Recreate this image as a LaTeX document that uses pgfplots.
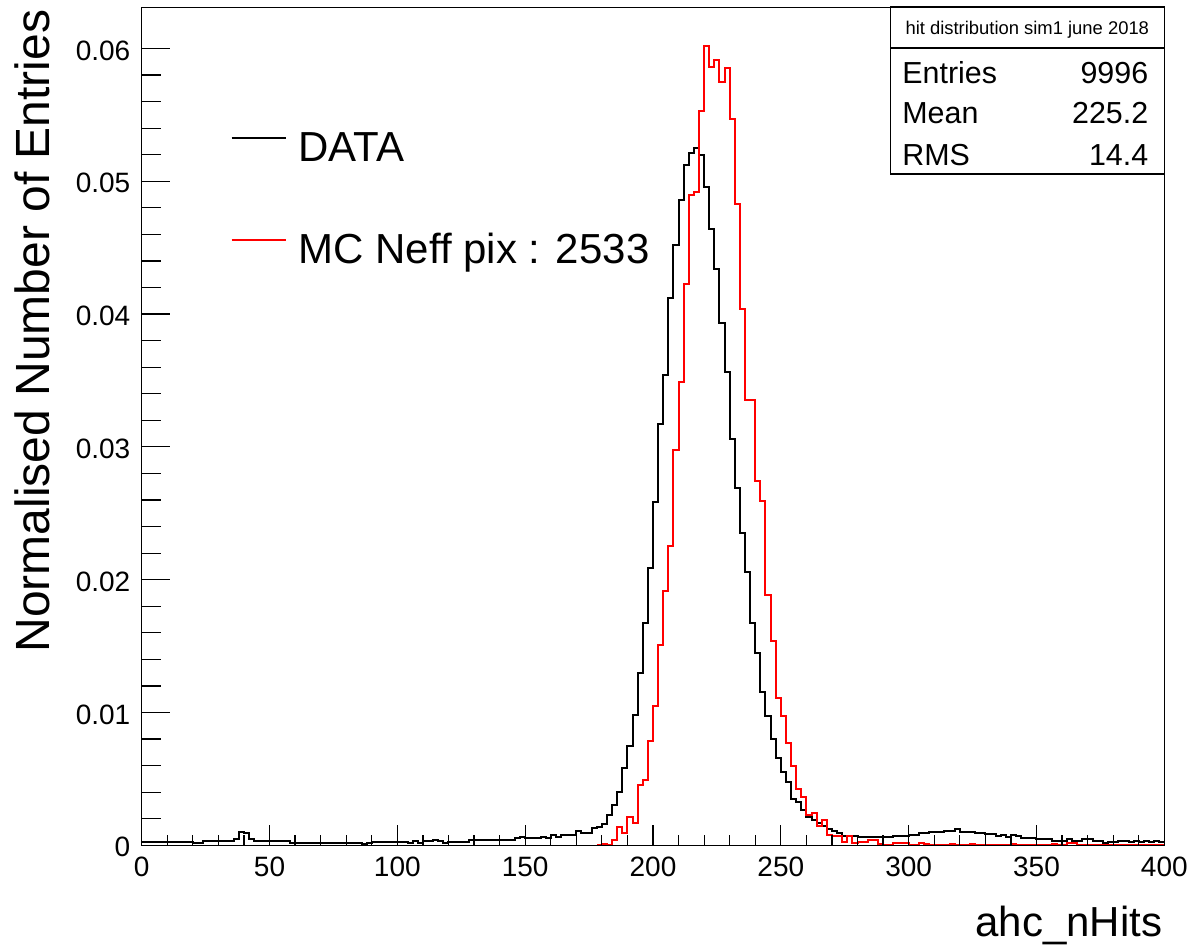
\documentclass[border=0pt]{standalone}
\usepackage{fontspec}
\setmainfont{Liberation Sans}
\usepackage{pgfplots}
\usepackage{pgfplotstable}
\pgfplotsset{compat=1.18}

\pgfplotstableread{
x y
0 0.00027
2 0.00027
4 0.00027
6 0.00027
8 0.00027
10 0.00027
12 0.00027
14 0.00027
16 0.00027
18 0.00027
20 0.0002
22 0.0002
24 0.00032
26 0.00032
28 0.00032
30 0.00032
32 0.00032
34 0.00032
36 0.00045
38 0.00098
40 0.0009
42 0.00045
44 0.0003
46 0.0003
48 0.0003
50 0.0003
52 0.0003
54 0.0003
56 0.0003
58 0.0002
60 0.0002
62 0.0002
64 0.0002
66 0.0002
68 0.0002
70 0.0002
72 0.0002
74 0.0002
76 0.0002
78 0.0002
80 0.0002
82 0.0002
84 0.0002
86 0.00008
88 0.00015
90 0.00022
92 0.00022
94 0.00022
96 0.00022
98 0.00022
100 0.00022
102 0.00022
104 0.00015
106 0.0003
108 0.00015
110 0.0003
112 0.0003
114 0.00037
116 0.0003
118 0.00018
120 0.00025
122 0.00025
124 0.00025
126 0.00025
128 0.0004
130 0.0004
132 0.0004
134 0.0004
136 0.0004
138 0.0004
140 0.0004
142 0.0004
144 0.0004
146 0.00053
148 0.00065
150 0.00053
152 0.00053
154 0.00053
156 0.0006
158 0.00053
160 0.00078
162 0.00065
164 0.00078
166 0.00078
168 0.00078
170 0.00108
172 0.00095
174 0.00095
176 0.00128
178 0.0014
180 0.00158
182 0.00228
184 0.00303
186 0.00404
188 0.0058
190 0.00748
192 0.00981
194 0.0130
196 0.01676
198 0.02086
200 0.02587
202 0.0317
204 0.0354
206 0.0412
208 0.0452
210 0.0486
212 0.0512
214 0.0521
216 0.0525
218 0.0520
220 0.0496
222 0.0464
224 0.0434
226 0.0393
228 0.0356
230 0.0306
232 0.0269
234 0.0235
236 0.0206
238 0.01676
240 0.01446
242 0.01157
244 0.00974
246 0.0080
248 0.00655
250 0.0055
252 0.0048
254 0.00346
256 0.00328
258 0.00266
260 0.00215
262 0.0019
264 0.00166
266 0.00145
268 0.0012
270 0.00108
272 0.00095
274 0.0007
276 0.0007
278 0.0007
280 0.0006
282 0.0006
284 0.0006
286 0.0006
288 0.0006
290 0.00063
292 0.00063
294 0.0007
296 0.0007
298 0.0007
300 0.00078
302 0.00078
304 0.0009
306 0.0009
308 0.001
310 0.001
312 0.001
314 0.0011
316 0.0011
318 0.0012
320 0.001
322 0.001
324 0.001
326 0.00095
328 0.00095
330 0.00083
332 0.00083
334 0.0007
336 0.00078
338 0.00063
340 0.00078
342 0.0007
344 0.00053
346 0.00053
348 0.00053
350 0.00045
352 0.00045
354 0.00045
356 0.00035
358 0.00035
360 0.00035
362 0.00045
364 0.00033
366 0.00033
368 0.00045
370 0.00045
372 0.00033
374 0.00033
376 0.0002
378 0.00027
380 0.00027
382 0.00035
384 0.00035
386 0.00027
388 0.00035
390 0.00027
392 0.00035
394 0.00027
396 0.00035
398 0.00027
400 0.00027
}\datatable

\pgfplotstableread{
x y
178 0
180 0.00008
182 0
184 0.0004
186 0.0014
188 0.0009
190 0.00215
192 0.0017
194 0.00454
196 0.0049
198 0.00785
200 0.01049
202 0.01508
204 0.01915
206 0.02256
208 0.0298
210 0.0349
212 0.0423
214 0.0490
216 0.0492
218 0.0553
220 0.0602
222 0.0586
224 0.0591
226 0.0575
228 0.0585
230 0.0547
232 0.0483
234 0.0404
236 0.0335
238 0.0335
240 0.0274
242 0.0259
244 0.01885
246 0.0154
248 0.01107
250 0.00974
252 0.00773
254 0.00597
256 0.00422
258 0.00366
260 0.00228
262 0.00245
264 0.00145
266 0.0019
268 0.00078
270 0.0007
272 0.0007
274 0.00027
276 0.0007
278 0.00015
280 0.00027
282 0.00027
284 0.0004
286 0.0004
288 0.0001
290 0
292 0
294 0.0002
296 0.0002
298 0.0002
300 0
302 0
304 0.0002
306 0.0001
308 0
310 0
312 0
314 0
316 0.0001
318 0
320 0
322 0
324 0.0001
326 0
328 0
330 0
332 0
334 0
336 0
338 0
340 0.0001
342 0
344 0
346 0
348 0
350 0
352 0
354 0
356 0.0001
358 0
360 0
362 0.0002
364 0.0002
366 0
368 0
370 0
372 0
374 0
376 0
378 0
380 0
382 0
384 0
386 0
388 0
390 0
392 0
394 0
396 0
398 0
400 0
}\mctable

\begin{document}
\begin{tikzpicture}
\path[use as bounding box] (-70.85pt,-49.85pt) rectangle (526.15pt,422.65pt);
\begin{axis}[
  name=ax,
  at={(0,0)}, anchor=south west,
  scale only axis,
  width=511.3pt, height=419pt,
  xmin=0, xmax=400, ymin=0, ymax=0.0631,
  axis on top,
  axis line style={line width=0.7pt},
  tick pos=left,
  tick align=inside,
  xtick={0,50,100,150,200,250,300,350,400},
  ytick={0,0.01,0.02,0.03,0.04,0.05,0.06},
  yticklabels={{0\hspace{8.8pt}},0.01,0.02,0.03,0.04,0.05,0.06},
  scaled y ticks=false,
  minor x tick num=4,
  minor y tick num=4,
  every tick/.style={black, line width=0.6pt},
  xtick style={/pgfplots/major tick length=10.3pt, /pgfplots/minor tick length=5.3pt},
  ytick style={/pgfplots/major tick length=14.2pt, /pgfplots/minor tick length=9.5pt},
  /pgf/number format/assume math mode=true,
  xticklabel style={font=\fontsize{14pt}{16pt}\selectfont, inner sep=0pt, yshift=-5.7pt},
  yticklabel style={font=\fontsize{14pt}{16pt}\selectfont, inner sep=0pt, xshift=-5.5pt, yshift=-1pt},
  xlabel={ahc\_nHits},
  ylabel={Normalised Number of Entries},
  every axis x label/.style={at={(axis description cs:0.99844,-0.10907)}, anchor=base east, inner sep=0pt, font=\fontsize{21pt}{25pt}\selectfont},
  every axis y label/.style={at={(axis description cs:-0.09036,0.99761)}, rotate=90, anchor=base east, inner sep=0pt, font=\fontsize{24pt}{28pt}\selectfont},
  legend style={draw=none, fill=none, at={(axis description cs:0.08703,0.85394)}, anchor=north west,
    inner sep=0pt, outer sep=0pt, row sep=29.8pt,
    font=\fontsize{21pt}{25pt}\selectfont,
    nodes={inner sep=0pt, text height=16pt, text depth=5pt, anchor=base west}},
  legend image code/.code={\draw[#1, line width=0.8pt] (0pt,11.7pt) -- (27.15pt,11.7pt); \path (33pt,0pt);},
]
\addplot[const plot mark left, black, line width=1pt] table[x=x,y=y] {\datatable};
\addlegendentry{DATA}
\addplot[const plot mark left, red, line width=1pt] table[x=x,y=y] {\mctable};
\addlegendentry{MC Neff pix : 2533}
\end{axis}
% statistics box
\draw[line width=0.8pt, fill=white] ([xshift=-137pt]ax.north east) rectangle ([yshift=-83.35pt]ax.north east);
\draw[line width=0.8pt] ([xshift=-137pt, yshift=-20.5pt]ax.north east) -- ([yshift=-20.5pt]ax.north east);
\node[anchor=base, inner sep=0pt, font=\fontsize{9.2pt}{11pt}\selectfont] at ([xshift=-68.5pt, yshift=-13.5pt]ax.north east) {hit distribution sim1 june 2018};
\begin{scope}[every node/.style={inner sep=0pt, font=\fontsize{15.2pt}{18pt}\selectfont}]
\node[anchor=base west] at ([xshift=-131.15pt, yshift=-38pt]ax.north east) {Entries};
\node[anchor=base east] at ([xshift=-7.85pt, yshift=-38pt]ax.north east) {9996};
\node[anchor=base west] at ([xshift=-131.15pt, yshift=-58.35pt]ax.north east) {Mean};
\node[anchor=base east] at ([xshift=-7.85pt, yshift=-58.35pt]ax.north east) {225.2};
\node[anchor=base west] at ([xshift=-131.15pt, yshift=-79.35pt]ax.north east) {RMS};
\node[anchor=base east] at ([xshift=-7.85pt, yshift=-79.35pt]ax.north east) {14.4};
\end{scope}
\end{tikzpicture}
\end{document}
